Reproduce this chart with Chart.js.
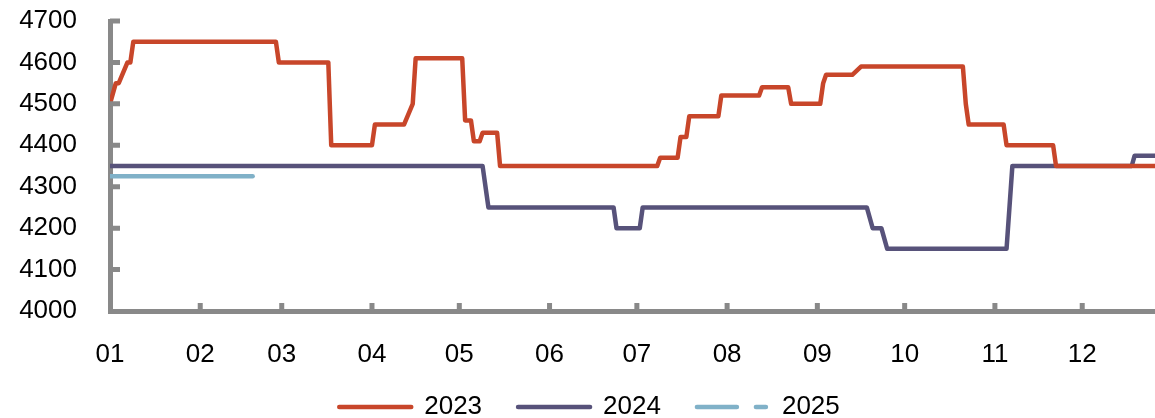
<!DOCTYPE html>
<html lang="en">
<head>
    <meta charset="UTF-8">
    <title>2023-2025 price chart</title>
    <script src="https://cdn.jsdelivr.net/npm/chart.js"></script>
    <style>
        html, body {
            margin: 0;
            padding: 0;
            background: #ffffff;
        }

        .chart-box {
            width: 1155px;
            height: 418px;
            position: relative;
        }
    </style>
</head>
<body>
    <div class="chart-box">
        <canvas id="priceChart"></canvas>
    </div>

    <script>
        // month ticks (day of year where each month starts)
        const monthStarts = [0, 31, 59, 90, 120, 151, 181, 212, 243, 273, 304, 334];
        const monthLabels = ['01', '02', '03', '04', '05', '06', '07', '08', '09', '10', '11', '12'];
        const yTicks = [4000, 4100, 4200, 4300, 4400, 4500, 4600, 4700];

        // 2023 series: day of year / value
        const days2023 = [0, 2, 3, 6, 7, 8, 57, 58, 75, 76, 90, 91, 101, 104, 105, 121, 122, 124, 125, 127, 128,
            133, 134, 188, 189, 195, 196, 198, 199, 209, 210, 223, 224, 233, 234, 244, 245, 246, 255, 258,
            293, 294, 295, 307, 308, 324, 325, 359];
        const vals2023 = [4500, 4550, 4550, 4600, 4600, 4650, 4650, 4600, 4600, 4400, 4400, 4450, 4450, 4500, 4610,
            4610, 4460, 4460, 4410, 4410, 4430, 4430, 4350, 4350, 4370, 4370, 4420, 4420, 4470, 4470, 4520,
            4520, 4540, 4540, 4500, 4500, 4550, 4570, 4570, 4590, 4590, 4500, 4450, 4450, 4400, 4400, 4350, 4350];

        // 2024 series
        const days2024 = [0, 128, 130, 173, 174, 182, 183, 260, 262, 265, 267, 308, 310, 351, 352, 359];
        const vals2024 = [4350, 4350, 4250, 4250, 4200, 4200, 4250, 4250, 4200, 4200, 4150, 4150, 4350, 4350, 4375, 4375];

        // 2025 series
        const days2025 = [0, 49];
        const vals2025 = [4325, 4325];

        const axisColor = '#898989';

        function toPoints(days, vals) {
            return days.map((d, i) => ({ x: d, y: vals[i] }));
        }

        // small tick marks drawn on the inner side of both axes
        const innerTicks = {
            id: 'innerTicks',
            afterDraw(chart) {
                const { ctx, chartArea, scales } = chart;
                ctx.save();
                ctx.strokeStyle = axisColor;
                ctx.lineWidth = 5;
                ctx.beginPath();
                scales.y.ticks.forEach(t => {
                    if (t.value === 4000) return;
                    const py = scales.y.getPixelForValue(t.value);
                    ctx.moveTo(chartArea.left, py);
                    ctx.lineTo(chartArea.left + 10, py);
                });
                scales.x.ticks.forEach((t, i) => {
                    if (i === 0) return;
                    const px = scales.x.getPixelForValue(t.value);
                    ctx.moveTo(px, chartArea.bottom);
                    ctx.lineTo(px, chartArea.bottom - 8);
                });
                ctx.stroke();
                ctx.restore();
            }
        };

        // pull the legend up a little so it sits closer to the month labels
        const legendShift = {
            id: 'legendShift',
            afterLayout(chart) {
                chart.legend.top -= 13;
                chart.legend.height += 13;
                chart.legend.left += 8;
                chart.legend.width -= 8;
            }
        };

        const labelFont = { family: 'Liberation Sans, Arial, sans-serif', size: 26 };

        new Chart(document.getElementById('priceChart'), {
            type: 'line',
            data: {
                datasets: [
                    {
                        label: '2023',
                        data: toPoints(days2023, vals2023),
                        borderColor: '#C8462A',
                        backgroundColor: '#C8462A',
                        borderWidth: 4.5
                    },
                    {
                        label: '2024',
                        data: toPoints(days2024, vals2024),
                        borderColor: '#57527A',
                        backgroundColor: '#57527A',
                        borderWidth: 4.5
                    },
                    {
                        label: '2025',
                        data: toPoints(days2025, vals2025),
                        borderColor: '#80B1C8',
                        backgroundColor: '#80B1C8',
                        borderWidth: 4.5
                    }
                ]
            },
            options: {
                responsive: true,
                maintainAspectRatio: false,
                animation: false,
                layout: {
                    padding: { left: 16, right: 0, top: 21, bottom: 0 }
                },
                elements: {
                    point: { radius: 0 },
                    line: { tension: 0, borderJoinStyle: 'round', borderCapStyle: 'round' }
                },
                scales: {
                    x: {
                        type: 'linear',
                        min: 0,
                        max: 359,
                        afterBuildTicks: axis => {
                            axis.ticks = monthStarts.map(v => ({ value: v }));
                        },
                        afterFit: axis => {
                            axis.height = 60;
                            axis.paddingLeft = 0;
                            axis.paddingRight = 0;
                        },
                        grid: { display: false, drawTicks: false },
                        border: { display: true, color: axisColor, width: 5 },
                        ticks: {
                            autoSkip: false,
                            maxRotation: 0,
                            padding: 28,
                            color: '#000000',
                            font: labelFont,
                            callback: (value, index) => monthLabels[index]
                        }
                    },
                    y: {
                        min: 4000,
                        max: 4700,
                        afterBuildTicks: axis => {
                            axis.ticks = yTicks.map(v => ({ value: v }));
                        },
                        afterFit: axis => {
                            axis.width = 94;
                            axis.paddingTop = 0;
                            axis.paddingBottom = 0;
                        },
                        grid: { display: false, drawTicks: false },
                        border: { display: true, color: axisColor, width: 5 },
                        ticks: {
                            autoSkip: false,
                            padding: 33,
                            color: '#000000',
                            font: labelFont,
                            callback: value => String(value)
                        }
                    }
                },
                plugins: {
                    tooltip: { enabled: false },
                    legend: {
                        position: 'bottom',
                        maxHeight: 47,
                        labels: {
                            usePointStyle: true,
                            pointStyleWidth: 72,
                            padding: 36,
                            color: '#000000',
                            font: labelFont,
                            generateLabels: chart => {
                                const items = Chart.defaults.plugins.legend.labels.generateLabels(chart);
                                items.forEach(item => {
                                    item.pointStyle = 'line';
                                    item.lineWidth = 4.5;
                                    item.lineCap = 'round';
                                    if (item.text === '2025') item.lineDash = [40, 19, 10, 100];
                                });
                                return items;
                            }
                        }
                    }
                }
            },
            plugins: [innerTicks, legendShift]
        });
    </script>
</body>
</html>
